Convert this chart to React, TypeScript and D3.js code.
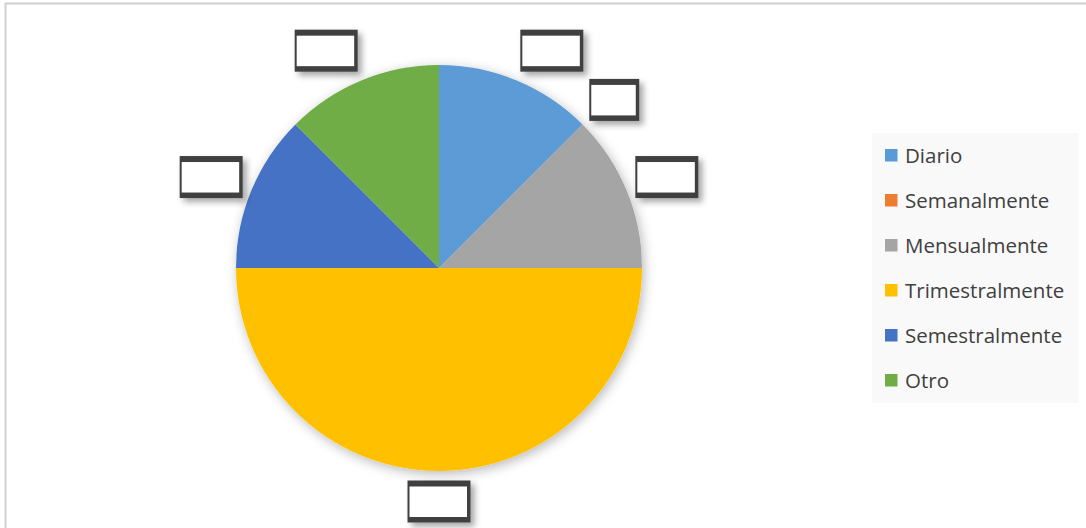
import React from "react";
import * as d3 from "d3";

const categories = ["Diario", "Semanalmente", "Mensualmente", "Trimestralmente", "Semestralmente", "Otro"];
const values = [1, 0, 1, 4, 1, 1];
const colors = ["#5B9BD5", "#ED7D31", "#A5A5A5", "#FFC000", "#4472C4", "#70AD47"];

const W = 1086;
const H = 528;
const cx = 439;
const cy = 268;
const R = 203;

export default function App() {
  const total = d3.sum(values);
  const pie = d3.pie<number>().sort(null).value((d) => d);
  const arcs = pie(values);
  const arcGen = d3.arc<d3.PieArcDatum<number>>().innerRadius(0).outerRadius(R);

  const legendY = d3.scaleBand<string>().domain(categories).range([133, 403]);

  const labels = arcs.map((a, i) => {
    const mid = (a.startAngle + a.endAngle) / 2;
    const s = Math.sin(mid);
    const c = Math.cos(mid);
    const ar = R + 9.5;
    const ax = cx + ar * s;
    const ay = cy - ar * c;
    const pct = d3.format(".0%")(values[i] / total);
    const w = 24 + 13 * pct.length;
    const h = 42;
    const g = Math.max(0, Math.min(1, (1 - 3 * s) / 2));
    const f = Math.max(0, Math.min(1, (1 + 1.2 * c) / 2));
    return { x: ax - w * g, y: ay - h * f, w, h };
  });

  return (
    <svg
      width={W}
      height={H}
      style={{ position: "fixed", left: 0, top: 0, background: "#fff" }}
      fontFamily="'Open Sans', sans-serif"
    >
      <defs>
        <filter id="pieShadow" x="-20%" y="-20%" width="140%" height="140%">
          <feDropShadow dx="2" dy="3" stdDeviation="6" floodColor="#000" floodOpacity="0.28" />
        </filter>
        <filter id="boxShadow" x="-30%" y="-30%" width="160%" height="160%">
          <feDropShadow dx="4" dy="4" stdDeviation="3" floodColor="#000" floodOpacity="0.35" />
        </filter>
      </defs>
      <rect x={5.5} y={3.5} width={W + 10} height={H + 10} fill="#fff" stroke="#d0d0d0" strokeWidth={2} />
      <g transform={`translate(${cx},${cy})`} filter="url(#pieShadow)">
        {arcs.map((a, i) => (
          <path key={i} d={arcGen(a) || ""} fill={colors[i]} />
        ))}
      </g>
      {labels.map((l, i) => (
        <g key={i} filter="url(#boxShadow)">
          <rect x={l.x} y={l.y} width={l.w} height={l.h} fill="#404040" />
          <rect x={l.x + 2} y={l.y + 6} width={l.w - 5.5} height={l.h - 11.5} fill="#fff" />
        </g>
      ))}
      <rect x={872} y={133} width={206} height={270} fill="#f9f9f9" />
      {categories.map((c, i) => {
        const y = (legendY(c) || 0) + legendY.bandwidth() / 2;
        return (
          <g key={c}>
            <rect x={885} y={y - 6.5} width={12.5} height={12.5} fill={colors[i]} />
            <text x={905} y={y} dy="0.36em" fontSize={20.5} fill="#404040">
              {c}
            </text>
          </g>
        );
      })}
    </svg>
  );
}
